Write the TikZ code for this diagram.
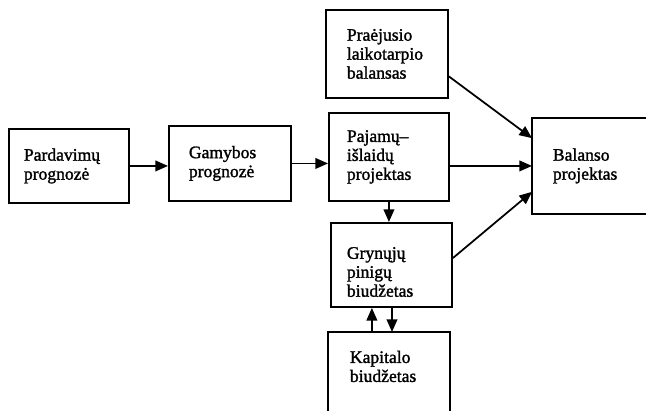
\documentclass[tikz,border=0pt]{standalone}
\usepackage{fontspec}
\setmainfont{Liberation Serif}
\newfontfamily\boxfont{Liberation Serif}[FakeBold=1.5]
\usetikzlibrary{arrows.meta,calc}

\begin{document}
\begin{tikzpicture}[
    box/.style={draw, line width=1.6pt, anchor=north west, align=left,
        inner ysep=0pt, font=\boxfont\fontsize{15}{16.2}\selectfont},
    arr/.style={line width=1.5pt, -{Triangle[length=3.8mm,width=3.2mm]}}
]
    \useasboundingbox (0,0) rectangle (19.38,-12.3);
    \clip (0,0) rectangle (19.38,-12.3);
    % boxes
    \node[box, minimum width=3.6cm, minimum height=2.22cm, inner xsep=0.45cm, text width=2.7cm] (pard) at (0.24,-3.84) {Pardavimų\\prognozė};
    \node[box, minimum width=3.66cm, minimum height=2.25cm, inner xsep=0.6cm, text width=2.46cm] (gam) at (5.04,-3.75) {Gamybos\\prognozė};
    \node[box, minimum width=3.66cm, minimum height=2.64cm, inner xsep=0.63cm, text width=2.4cm] (prev) at (9.75,-0.27) {Praėjusio\\laikotarpio\\balansas};
    \node[box, minimum width=3.6cm, minimum height=2.64cm, inner xsep=0.54cm, text width=2.52cm] (paj) at (9.84,-3.36) {Pajamų–\\išlaidų\\projektas};
    \node[box, draw=none, minimum width=3.9cm, minimum height=2.82cm, inner xsep=0.6cm, text width=2.7cm] (bal) at (15.96,-3.54) {Balanso\\projektas};
    \draw[line width=1.6pt] ([xshift=2cm]bal.north east) -| (bal.south west) -- ++(4,0);
    \node[box, minimum width=3.63cm, minimum height=2.52cm, inner xsep=0.48cm, text width=2.67cm] (gry) at (9.9,-6.66) {\rule{0pt}{22pt}Grynųjų\\pinigų\\biudžetas};
    \node[box, draw=none, minimum width=3.6cm, minimum height=2.01cm, inner xsep=0.63cm, text width=2.34cm] (kap) at (9.84,-9.96) {Kapitalo\\biudžetas};
    \draw[line width=1.6pt] ([yshift=-1cm]kap.south west) |- (kap.north east) -- ++(0,-3);
    % arrows
    \draw[arr] (pard.east) -- (pard.east -| gam.west);
    \draw[arr] (gam.east) -- (gam.east -| paj.west);
    \draw[arr] ($(prev.north east)!0.75!(prev.south east)$) -- ($(bal.north west)!0.21!(bal.south west)$);
    \draw[arr] (bal.west -| paj.east) -- (bal.west);
    \draw[arr] ($(gry.north east)!0.42!(gry.south east)$) -- ($(bal.north west)!0.77!(bal.south west)$);
    \draw[arr] (paj.south) -- (paj.south |- gry.north);
    \coordinate (up) at ($(kap.north west)!0.36!(kap.north east)$);
    \coordinate (dn) at ($(kap.north west)!0.525!(kap.north east)$);
    \draw[arr] (up) -- (up |- gry.south);
    \draw[arr] (dn |- gry.south) -- (dn);
\end{tikzpicture}
\end{document}
